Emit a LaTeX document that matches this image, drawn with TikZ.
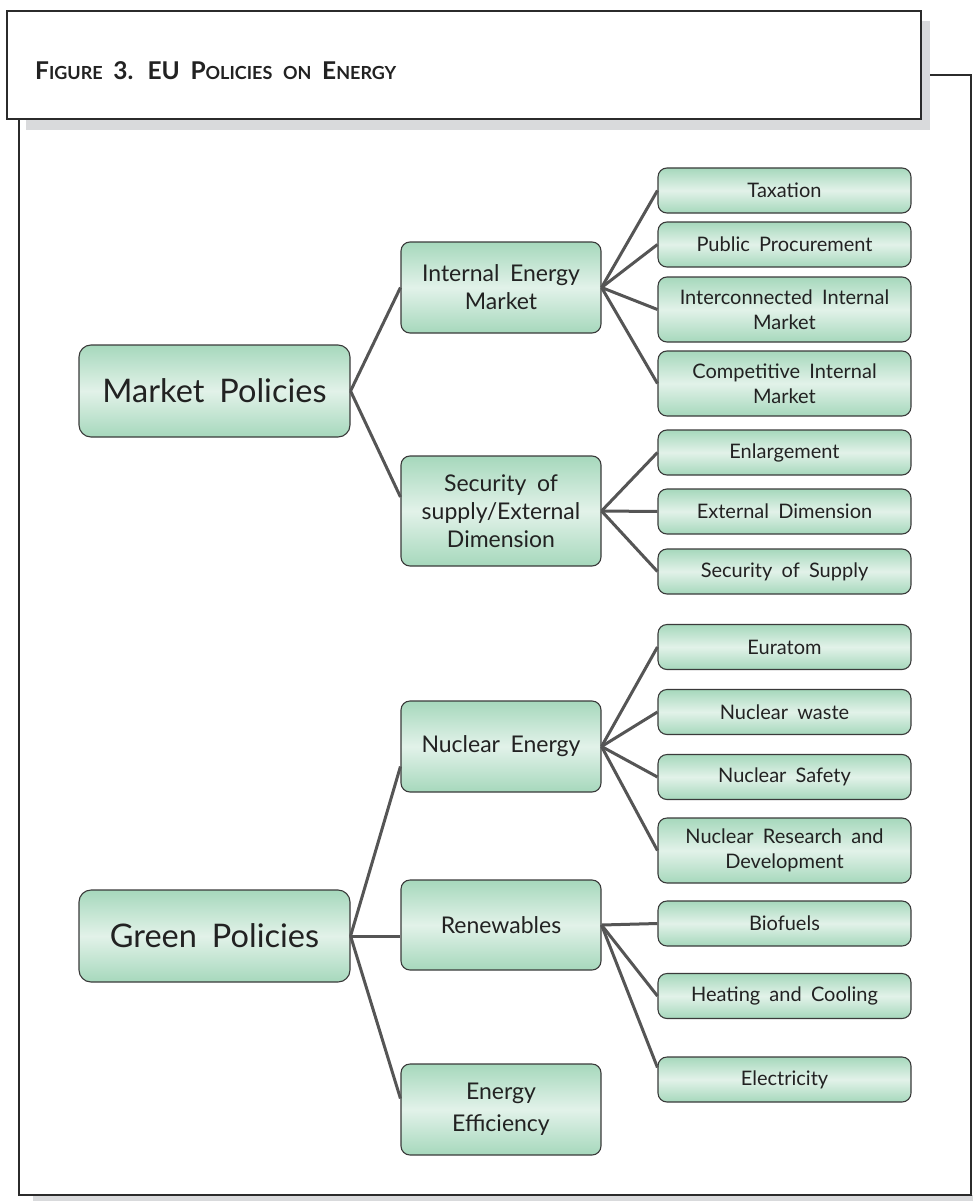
\documentclass[tikz,border=0pt]{standalone}
\usepackage{fontspec}
\setmainfont{Lato}[WordSpace=1.8]
\usetikzlibrary{calc}

\definecolor{boxgreen}{HTML}{A6D8BC}
\definecolor{boxlight}{HTML}{E2F2E9}
\definecolor{boxedge}{HTML}{3A3A3A}
\definecolor{linkgray}{HTML}{555555}
\definecolor{framegray}{HTML}{2B2B2B}
\definecolor{shadowgray}{HTML}{D9DADC}
\definecolor{inkgray}{HTML}{222222}

% fake small capitals for the caption
\newcommand{\capsmall}[1]{{\fontsize{18}{18}\selectfont #1}}

\tikzset{
  box/.style={draw=boxedge, line width=1.1pt, rounded corners=9pt,
    top color=boxgreen, bottom color=boxgreen, middle color=boxlight,
    align=center, text=inkgray, inner sep=0pt},
  lvlone/.style={box, minimum width=271pt, minimum height=92pt,
    rounded corners=12pt, font=\fontsize{32.5}{38}\selectfont},
  lvltwo/.style={box, minimum width=200pt, font=\fontsize{23}{28}\selectfont},
  lvlthree/.style={box, minimum width=253pt, minimum height=45pt,
    font=\fontsize{20}{25}\selectfont},
  link/.style={draw=linkgray, line width=3pt},
  frameline/.style={draw=framegray, line width=2pt},
}

\begin{document}
\begin{tikzpicture}[x=1pt,y=-1pt]
\useasboundingbox (0,0) rectangle (973,1201);

% caption panel with its drop shadow
\fill[shadowgray] (26,21) rectangle (930,130);
\draw[frameline, fill=white] (7,11) rectangle (921,119);
\node[anchor=base west, inner sep=0pt, text=inkgray,
      font=\bfseries\fontsize{24.5}{25}\selectfont] (title) at (35,80)
  {F\capsmall{IGURE} 3.\hspace{14pt}EU P\capsmall{OLICIES} \capsmall{ON} E\capsmall{NERGY}};

% outer frame
\fill[shadowgray] (33,1195) rectangle (973,1201);
\draw[frameline] (19,119) -- (19,1195) -- (971,1195) -- (971,75) -- (930,75);

% top level
\node[lvlone] (mp) at (214.5,391) {Market Policies};
\node[lvlone] (gp) at (214.5,936) {Green Policies};

% second level
\node[lvltwo, minimum height=91pt]  (iem) at (501,287.5) {Internal Energy\\Market};
\node[lvltwo, minimum height=110pt] (sec) at (501,511) {Security of\\supply/External\\Dimension};
\node[lvltwo, minimum height=91pt]  (nuc) at (501,746.5) {Nuclear Energy};
\node[lvltwo, minimum height=90pt]  (ren) at (501,925) {Renewables};
\node[lvltwo, minimum height=91pt]  (ee)  at (501,1109.5) {Energy\\[4pt]Efficiency};

% third level
\node[lvlthree] (tax) at (784.5,190.5) {Taxation};
\node[lvlthree] (pp)  at (784.5,244.5) {Public Procurement};
\node[lvlthree, minimum height=65pt] (iim) at (784.5,309.5) {Interconnected Internal\\Market};
\node[lvlthree, minimum height=65pt] (cim) at (784.5,383.5) {Competitive Internal\\Market};
\node[lvlthree] (enl) at (784.5,452.5) {Enlargement};
\node[lvlthree] (ext) at (784.5,511.5) {External Dimension};
\node[lvlthree] (sos) at (784.5,571.5) {Security of Supply};
\node[lvlthree] (eur) at (784.5,647) {Euratom};
\node[lvlthree] (nw)  at (784.5,712) {Nuclear waste};
\node[lvlthree] (ns)  at (784.5,777) {Nuclear Safety};
\node[lvlthree, minimum height=65pt] (nrd) at (784.5,850.5) {Nuclear Research and\\Development};
\node[lvlthree] (bio) at (784.5,923.5) {Biofuels};
\node[lvlthree] (hc)  at (784.5,996) {Heating and Cooling};
\node[lvlthree] (ele) at (784.5,1079.5) {Electricity};

% connectors
\draw[link] (mp.east) -- (iem.west);
\draw[link] (mp.east) -- ([yshift=14pt]sec.west);
\draw[link] (gp.east) -- ([yshift=-20pt]nuc.west);
\draw[link] (gp.east) -- (gp.east -| ren.west);
\draw[link] (gp.east) -- ([yshift=11pt]ee.west);

\foreach \c in {tax,pp,iim,cim} \draw[link] (iem.east) -- (\c.west);
\foreach \c in {enl,ext,sos} \draw[link] (sec.east) -- (\c.west);
\foreach \c in {eur,nw,ns,nrd} \draw[link] (nuc.east) -- (\c.west);
\draw[link] (ren.east) -- (bio.west);
\draw[link] (ren.east) -- (hc.west);
\draw[link] (ren.east) -- ([yshift=12pt]ele.west);
\end{tikzpicture}
\end{document}
